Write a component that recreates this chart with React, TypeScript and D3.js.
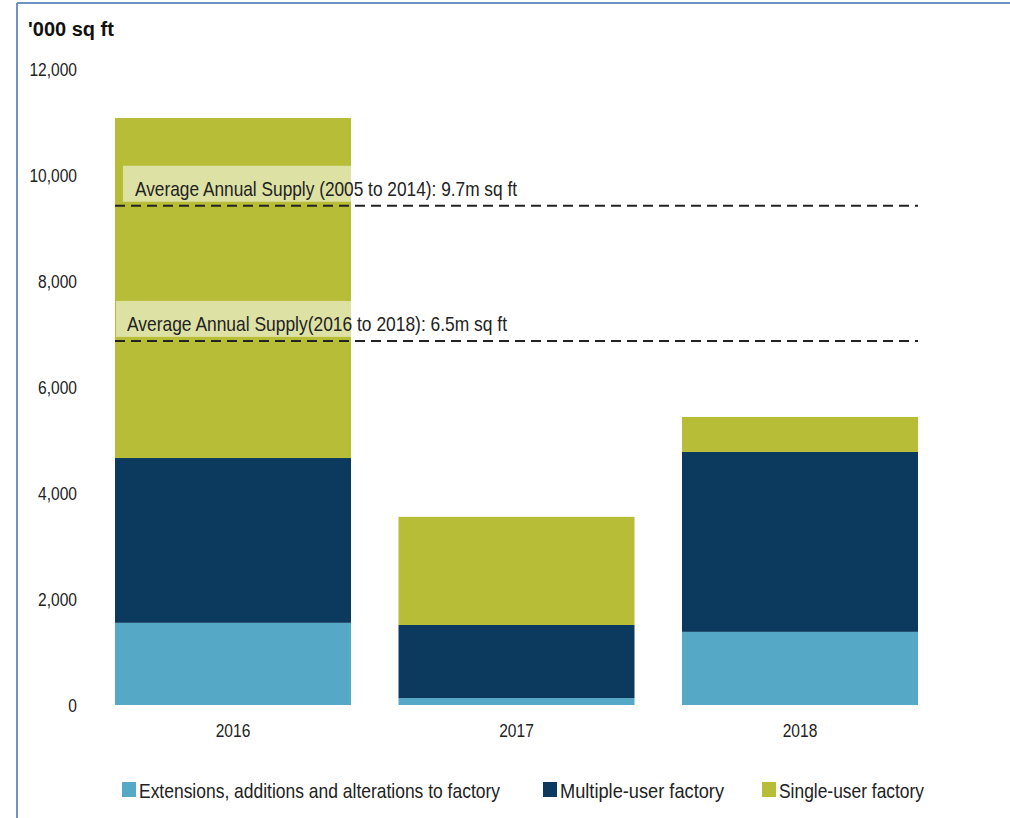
import React from "react";
import * as d3 from "d3";

const years = ["2016", "2017", "2018"];
const extensions = [1550, 130, 1380];
const multipleUser = [3110, 1380, 3395];
const singleUser = [6415, 2040, 660];
const yTicks = [0, 2000, 4000, 6000, 8000, 10000, 12000];
const seriesNames = [
  "Extensions, additions and alterations to factory",
  "Multiple-user factory",
  "Single-user factory",
];
const seriesColors = ["#55a9c6", "#0c3a5f", "#b7bd36"];
const avgValues = [9420, 6870];
const avgLabels = [
  "Average Annual Supply (2005 to 2014): 9.7m sq ft",
  "Average Annual Supply(2016 to 2018): 6.5m sq ft",
];

const W = 1010;
const H = 818;
const sans = "'Liberation Sans', Arial, sans-serif";

// narrow-ish text: plain sans squeezed horizontally
const Squeezed = ({ x, y, anchor = "start", size = 18, sx = 0.86, children, dy }: any) => (
  <g transform={`translate(${x},${y}) scale(${sx},1)`}>
    <text x={0} y={0} dy={dy} textAnchor={anchor} fontFamily={sans} fontSize={size} fill="#222">
      {children}
    </text>
  </g>
);

const App = () => {
  const x = d3.scaleBand().domain(years).range([115, 918]).paddingInner(0.1675).paddingOuter(0);
  const y = d3.scaleLinear().domain([0, 12000]).range([705, 69]);

  const rows = years.map((yr, i) => ({
    year: yr,
    ext: extensions[i],
    multi: multipleUser[i],
    single: singleUser[i],
  }));
  const stacked = d3.stack().keys(["ext", "multi", "single"])(rows as any);

  const labelBoxes = [
    { x: 123, w: 400, textX: 135, len: 382 },
    { x: 116, w: 400, textX: 127, len: 380 },
  ];

  const legendPos = [122, 543, 762];
  const legendLen = [361, 164, 145];

  return (
    <svg width={W} height={H} style={{ position: "absolute", left: 0, top: 0, background: "#fff" }}>
      <line x1={17} y1={3} x2={W} y2={3} stroke="#6d93c6" strokeWidth={2} />
      <line x1={17} y1={3} x2={17} y2={H} stroke="#6d93c6" strokeWidth={2} />

      <text x={28} y={36} fontFamily={sans} fontWeight="bold" fontSize={20} fill="#111">
        '000 sq ft
      </text>

      {yTicks.map((t) => (
        <Squeezed key={t} x={77} y={y(t)} dy="0.35em" anchor="end" size={19} sx={0.82}>
          {d3.format(",")(t)}
        </Squeezed>
      ))}

      {stacked.map((s, si) =>
        s.map((d, i) => (
          <rect
            key={si + "-" + i}
            x={x(years[i])}
            y={y(d[1])}
            width={x.bandwidth()}
            height={y(d[0]) - y(d[1])}
            fill={seriesColors[si]}
          />
        ))
      )}

      {years.map((yr) => (
        <Squeezed
          key={yr}
          x={(x(yr) as number) + x.bandwidth() / 2}
          y={737}
          anchor="middle"
          size={19}
          sx={0.82}
        >
          {yr}
        </Squeezed>
      ))}

      {avgValues.map((v, i) => (
        <g key={i}>
          <rect
            x={labelBoxes[i].x}
            y={y(v) - 40}
            width={labelBoxes[i].w}
            height={36}
            fill="#fff"
            fillOpacity={0.55}
          />
          <text
            x={labelBoxes[i].textX}
            y={y(v) - 10}
            fontFamily={sans}
            fontSize={21}
            fill="#222"
            textLength={labelBoxes[i].len}
            lengthAdjust="spacingAndGlyphs"
          >
            {avgLabels[i]}
          </text>
          <line
            x1={115}
            x2={918}
            y1={y(v)}
            y2={y(v)}
            stroke="#222"
            strokeWidth={2}
            strokeDasharray="10,6"
          />
        </g>
      ))}

      {seriesNames.map((n, i) => (
        <g key={n}>
          <rect x={legendPos[i]} y={782} width={14} height={15} fill={seriesColors[i]} />
          <text
            x={legendPos[i] + 17}
            y={798}
            fontFamily={sans}
            fontSize={21}
            fill="#222"
            textLength={legendLen[i]}
            lengthAdjust="spacingAndGlyphs"
          >
            {n}
          </text>
        </g>
      ))}
    </svg>
  );
};

export default App;
